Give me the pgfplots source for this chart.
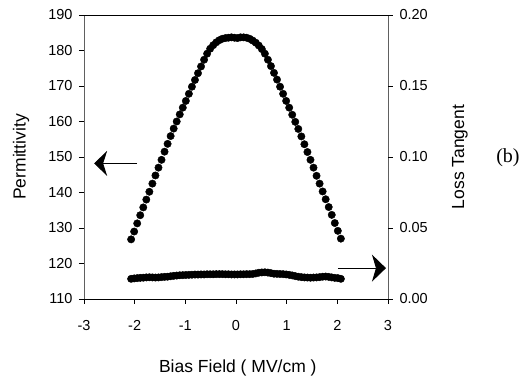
\documentclass[border=0pt]{standalone}
\usepackage{pgfplots}
\pgfplotsset{compat=1.18}
\usepackage{fontspec}
\setmainfont{Liberation Sans}
\newfontfamily\seriffont{Liberation Serif}
\usetikzlibrary{arrows.meta}
\pgfplotstableread{
x eps
-2.07 126.8
-2.01 129.0
-1.95 131.3
-1.89 133.6
-1.83 135.8
-1.77 138.0
-1.71 140.2
-1.65 142.5
-1.59 144.8
-1.53 147.0
-1.47 149.2
-1.41 151.5
-1.35 153.7
-1.29 155.9
-1.23 158.0
-1.17 160.0
-1.11 162.0
-1.05 163.9
-0.99 165.8
-0.93 167.8
-0.87 169.8
-0.81 171.7
-0.75 173.6
-0.69 175.5
-0.63 177.4
-0.57 179.1
-0.51 180.5
-0.45 181.5
-0.39 182.3
-0.33 182.9
-0.27 183.3
-0.21 183.5
-0.15 183.6
-0.09 183.7
-0.03 183.6
0.03 183.5
0.09 183.7
0.15 183.7
0.21 183.6
0.27 183.3
0.33 182.8
0.39 182.2
0.45 181.4
0.51 180.4
0.57 179.1
0.63 177.4
0.69 175.6
0.75 173.7
0.81 171.8
0.87 169.8
0.93 167.8
0.99 165.8
1.05 163.9
1.11 161.9
1.17 159.9
1.23 157.9
1.29 155.8
1.35 153.6
1.41 151.4
1.47 149.2
1.53 147.0
1.59 144.7
1.65 142.5
1.71 140.3
1.77 138.1
1.83 135.9
1.89 133.7
1.95 131.4
2.01 129.2
2.07 127.0
}\permtable
\pgfplotstableread{
x tan
-2.07 0.0142
-2.01 0.0145
-1.95 0.0147
-1.89 0.0149
-1.83 0.0150
-1.77 0.0152
-1.71 0.0153
-1.65 0.0152
-1.59 0.0151
-1.53 0.0152
-1.47 0.0154
-1.41 0.0156
-1.35 0.0157
-1.29 0.0160
-1.23 0.0163
-1.17 0.0165
-1.11 0.0167
-1.05 0.0168
-0.99 0.0169
-0.93 0.0170
-0.87 0.0171
-0.81 0.0172
-0.75 0.0172
-0.69 0.0173
-0.63 0.0173
-0.57 0.0174
-0.51 0.0174
-0.45 0.0174
-0.39 0.0175
-0.33 0.0175
-0.27 0.0175
-0.21 0.0174
-0.15 0.0174
-0.09 0.0173
-0.03 0.0173
0.03 0.0173
0.09 0.0174
0.15 0.0174
0.21 0.0175
0.27 0.0175
0.33 0.0176
0.39 0.0180
0.45 0.0185
0.51 0.0187
0.57 0.0188
0.63 0.0186
0.69 0.0182
0.75 0.0178
0.81 0.0177
0.87 0.0176
0.93 0.0175
0.99 0.0173
1.05 0.0170
1.11 0.0166
1.17 0.0161
1.23 0.0157
1.29 0.0154
1.35 0.0152
1.41 0.0151
1.47 0.0150
1.53 0.0151
1.59 0.0152
1.65 0.0154
1.71 0.0157
1.77 0.0158
1.83 0.0156
1.89 0.0152
1.95 0.0149
2.01 0.0147
2.07 0.0142
}\tantable
\begin{document}
\begin{tikzpicture}
\useasboundingbox (-84pt,-80pt) rectangle (448pt,299pt);
\pgfplotsset{every axis/.append style={
  scale only axis, width=304pt, height=284pt,
  at={(0pt,0pt)}, anchor=south west,
  xmin=-3, xmax=3,
  axis line style={draw=none},
  tick align=outside, major tick length=5pt,
  tick style={black, line width=0.7pt},
  tick label style={font=\fontsize{14.5}{16}\selectfont},
  /pgf/number format/assume math mode=true,
  clip=false}}
\begin{axis}[
  ymin=110, ymax=190,
  ytick={110,120,130,140,150,160,170,180,190},
  xtick={-3,-2,-1,0,1,2,3},
  xtick pos=left, ytick pos=left,
  xticklabel style={yshift=-13pt},
  yticklabel style={xshift=-3pt},
]
\addplot[only marks, mark=*, mark size=3.7pt, mark options={fill=black, draw=black}] table[x=x, y=eps] {\permtable};
\draw[gray!75!black, line width=0.8pt] (rel axis cs:0,0) -- (rel axis cs:0,1);
\draw[gray!75!black, line width=0.8pt] (rel axis cs:1,0) -- (rel axis cs:1,1);
\draw[black, line width=0.9pt] (rel axis cs:0,0) -- (rel axis cs:1,0);
\draw[black, line width=0.9pt] (rel axis cs:0,1) -- (rel axis cs:1,1);
\draw[line width=0.9pt, -{Stealth[length=13pt, width=25pt, inset=4pt]}] (axis cs:-1.95,148.2) -- (axis cs:-2.80,148.2);
\draw[line width=0.9pt, -{Stealth[length=14pt, width=27pt, inset=4pt]}] (axis cs:2.01,118.7) -- (axis cs:2.96,118.7);
\node[xshift=-63pt, rotate=90, font=\fontsize{17.5}{20}\selectfont] at (rel axis cs:0,0.5) {Permittivity};
\node[xshift=72pt, rotate=90, font=\fontsize{17.5}{20}\selectfont] at (rel axis cs:1,0.5) {Loss Tangent};
\node[xshift=120pt, font=\seriffont\fontsize{20}{22}\selectfont] at (rel axis cs:1,0.496) {(b)};
\node[yshift=-69pt, font=\fontsize{17.5}{20}\selectfont] at (rel axis cs:0.506,0) {Bias Field ( MV/cm )};
\end{axis}
\begin{axis}[
  ymin=0, ymax=0.2,
  ytick={0,0.05,0.1,0.15,0.2},
  hide x axis,
  ytick pos=right, yticklabel pos=right,
  yticklabel style={xshift=3pt, /pgf/number format/.cd, fixed, fixed zerofill, precision=2},
]
\addplot[only marks, mark=*, mark size=3.7pt, mark options={fill=black, draw=black}] table[x=x, y=tan] {\tantable};
\end{axis}
\end{tikzpicture}
\end{document}
